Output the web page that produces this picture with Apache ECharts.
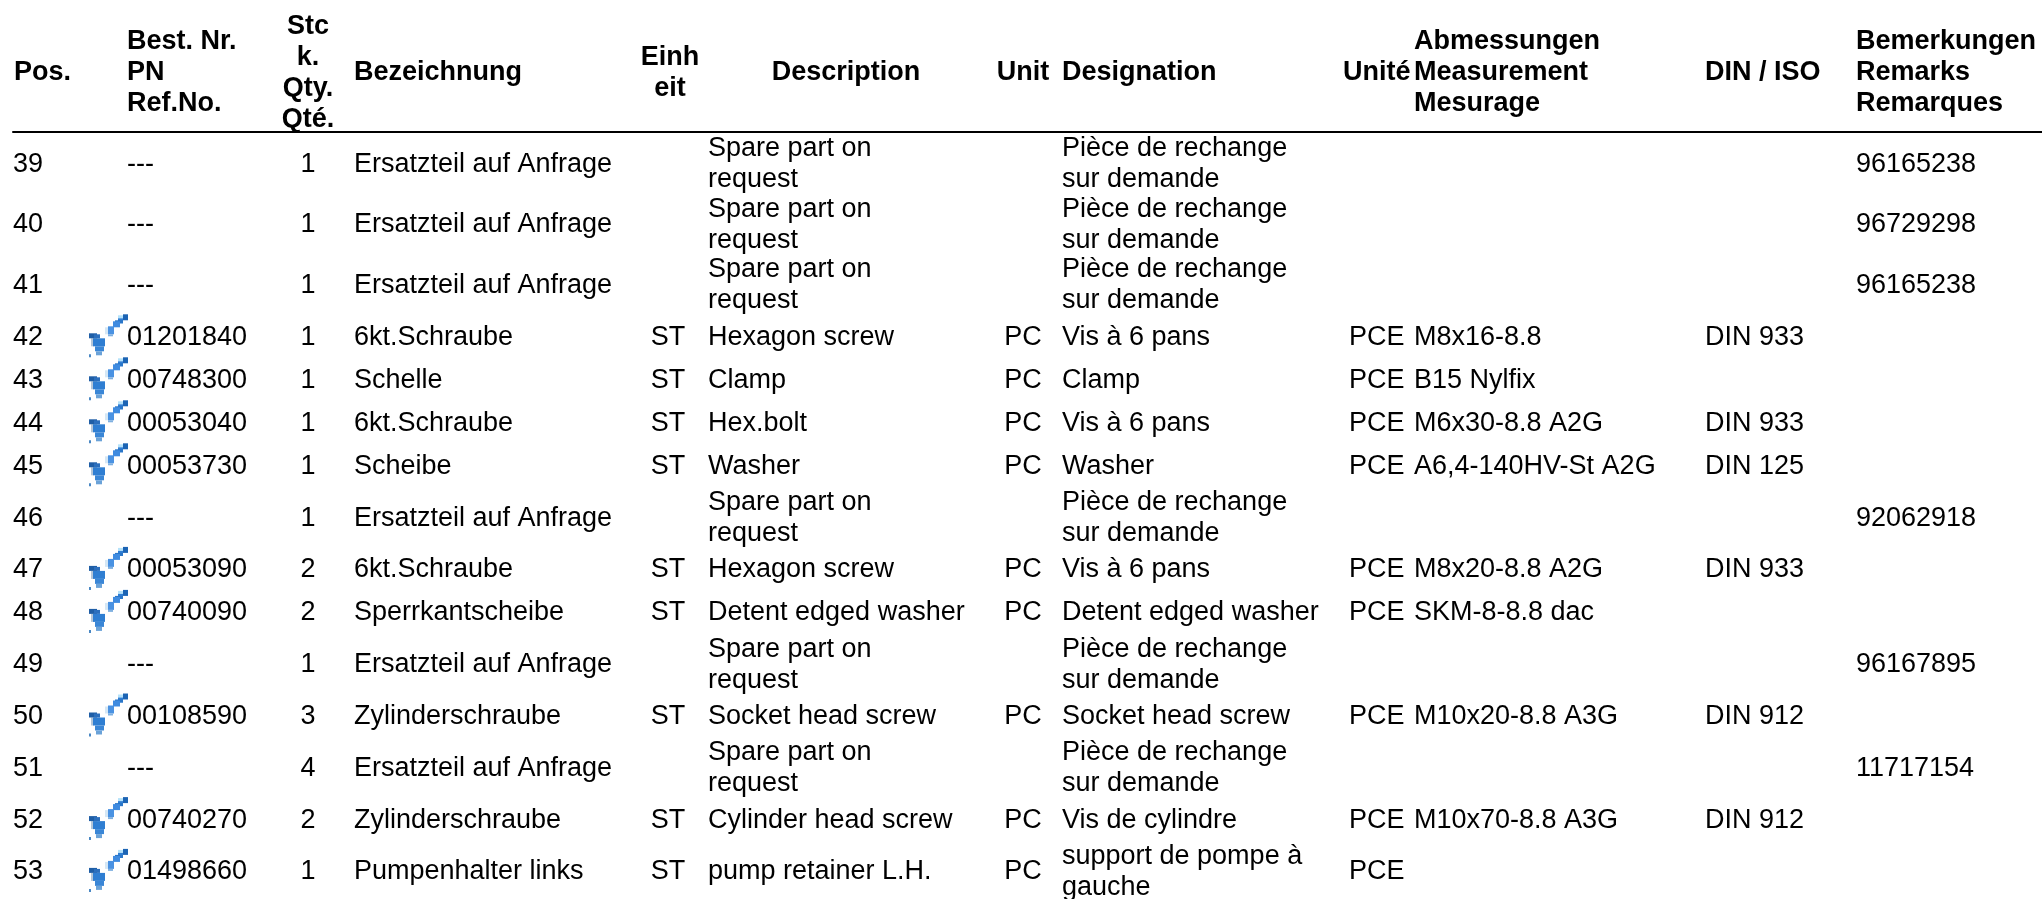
<!DOCTYPE html>
<html>
<head>
<meta charset="utf-8">
<title>Ersatzteilliste</title>
<style>
  html, body { margin: 0; padding: 0; background: #fff; }
  #chart { width: 2042px; height: 899px; }
</style>
<script src="https://cdn.jsdelivr.net/npm/echarts@6/dist/echarts.min.js"></script>
</head>
<body>
<div id="chart"></div>
<script>
const SPARE_DE = 'Ersatzteil auf Anfrage';
const SPARE_EN = 'Spare part on\nrequest';
const SPARE_FR = 'Pièce de rechange\nsur demande';

const positions = ['39', '40', '41', '42', '43', '44', '45', '46', '47', '48', '49', '50', '51', '52', '53'];
const partNumbers = ['---', '---', '---', '01201840', '00748300', '00053040', '00053730', '---', '00053090', '00740090', '---', '00108590', '---', '00740270', '01498660'];
const quantities = ['1', '1', '1', '1', '1', '1', '1', '1', '2', '2', '1', '3', '4', '2', '1'];
const namesDe = [SPARE_DE, SPARE_DE, SPARE_DE, '6kt.Schraube', 'Schelle', '6kt.Schraube', 'Scheibe', SPARE_DE, '6kt.Schraube', 'Sperrkantscheibe', SPARE_DE, 'Zylinderschraube', SPARE_DE, 'Zylinderschraube', 'Pumpenhalter links'];
const unitsDe = ['', '', '', 'ST', 'ST', 'ST', 'ST', '', 'ST', 'ST', '', 'ST', '', 'ST', 'ST'];
const namesEn = [SPARE_EN, SPARE_EN, SPARE_EN, 'Hexagon screw', 'Clamp', 'Hex.bolt', 'Washer', SPARE_EN, 'Hexagon screw', 'Detent edged washer', SPARE_EN, 'Socket head screw', SPARE_EN, 'Cylinder head screw', 'pump retainer L.H.'];
const unitsEn = ['', '', '', 'PC', 'PC', 'PC', 'PC', '', 'PC', 'PC', '', 'PC', '', 'PC', 'PC'];
const namesFr = [SPARE_FR, SPARE_FR, SPARE_FR, 'Vis à 6 pans', 'Clamp', 'Vis à 6 pans', 'Washer', SPARE_FR, 'Vis à 6 pans', 'Detent edged washer', SPARE_FR, 'Socket head screw', SPARE_FR, 'Vis de cylindre', 'support de pompe à\ngauche'];
const unitsFr = ['', '', '', 'PCE', 'PCE', 'PCE', 'PCE', '', 'PCE', 'PCE', '', 'PCE', '', 'PCE', 'PCE'];
const measures = ['', '', '', 'M8x16-8.8', 'B15 Nylfix', 'M6x30-8.8 A2G', 'A6,4-140HV-St A2G', '', 'M8x20-8.8 A2G', 'SKM-8-8.8 dac', '', 'M10x20-8.8 A3G', '', 'M10x70-8.8 A3G', ''];
const standards = ['', '', '', 'DIN 933', '', 'DIN 933', 'DIN 125', '', 'DIN 933', '', '', 'DIN 912', '', 'DIN 912', ''];
const remarks = ['96165238', '96729298', '96165238', '', '', '', '', '92062918', '', '', '96167895', '', '11717154', '', ''];

// column: header text, header anchor, body values, body anchor
const columns = [
  { head: 'Pos.', headX: 14, values: positions, x: 13 },
  { head: 'Best. Nr.\nPN\nRef.No.', headX: 127, values: partNumbers, x: 127 },
  { head: 'Stc\nk.\nQty.\nQté.', headX: 308, headAlign: 'center', values: quantities, x: 308, align: 'center' },
  { head: 'Bezeichnung', headX: 354, values: namesDe, x: 354 },
  { head: 'Einh\neit', headX: 670, headAlign: 'center', values: unitsDe, x: 668, align: 'center' },
  { head: 'Description', headX: 846, headAlign: 'center', values: namesEn, x: 708 },
  { head: 'Unit', headX: 1023, headAlign: 'center', values: unitsEn, x: 1023, align: 'center' },
  { head: 'Designation', headX: 1062, values: namesFr, x: 1062 },
  { head: 'Unité', headX: 1343, values: unitsFr, x: 1349 },
  { head: 'Abmessungen\nMeasurement\nMesurage', headX: 1414, values: measures, x: 1414 },
  { head: 'DIN / ISO', headX: 1705, values: standards, x: 1705 },
  { head: 'Bemerkungen\nRemarks\nRemarques', headX: 1856, values: remarks, x: 1856 }
];

const ruleY = 132;
const headerMidY = 73;
const tallRow = 60.6;
const shortRow = 43;
const lineH = 31;

// two-line rows are taller than single-line rows
const rowCentres = [];
let rowTop = ruleY + 2;
positions.forEach((_, i) => {
  const h = namesEn[i].includes('\n') || namesFr[i].includes('\n') ? tallRow : shortRow;
  rowCentres.push(rowTop + h / 2);
  rowTop += h;
});

const iconX = 108;
// blocky tool glyph: x, y, w, h, colour, relative to the top left of the icon box
const iconCells = [
  [33, 5, 5, 3, '#b5e2fa'], [38, 4, 5, 6, '#1c64b4'], [33, 8, 5, 5, '#2f7fd6'],
  [30, 10, 8, 3, '#2a76c8'], [28, 11, 7, 6, '#3f8be0'], [20, 17, 4, 7, '#d5e7f5'],
  [23, 16, 6, 8, '#4a92e2'], [23, 24, 5, 2, '#7fb0e0'],
  [6, 28, 3, 8, '#b4c6d8'], [8, 28, 12, 8, '#2f7ed2'], [10, 36, 9, 5, '#3a86d6'],
  [11, 41, 6, 4, '#6aa2d8'], [4, 23, 8, 5, '#1f5ea6'], [9, 24, 6, 4, '#2c6fbd'],
  [4, 44, 2, 3, '#4a88c4']
];

function textSeries(gridIndex, data, align, fontWeight) {
  return {
    type: 'scatter',
    xAxisIndex: gridIndex,
    yAxisIndex: gridIndex,
    clip: false,
    silent: true,
    symbolSize: 1,
    itemStyle: { color: 'transparent', opacity: 1 },
    label: {
      show: true,
      position: 'inside',
      align,
      verticalAlign: 'middle',
      formatter: p => p.value[2],
      color: '#000',
      opacity: 1, // scatter labels pick up the 0.8 default symbol opacity otherwise
      fontFamily: '"Liberation Sans", Arial, sans-serif',
      fontSize: 27,
      fontWeight,
      lineHeight: lineH
    },
    data
  };
}

const series = [];
columns.forEach(col => {
  series.push(textSeries(0, [[col.headX, headerMidY, col.head]], col.headAlign || 'left', 'bold'));
  const cells = [];
  col.values.forEach((v, i) => { if (v) cells.push([col.x, rowCentres[i], v]); });
  series.push(textSeries(1, cells, col.align || 'left', 'normal'));
});

// small blue tool icon in front of orderable part numbers
series.push({
  type: 'custom',
  xAxisIndex: 1,
  yAxisIndex: 1,
  clip: false,
  silent: true,
  renderItem: (params, api) => {
    const [cx, cy] = api.coord([api.value(0), api.value(1)]);
    return {
      type: 'group',
      x: cx - 23,
      y: cy - 27,
      children: iconCells.map(([x, y, width, height, fill]) => ({
        type: 'rect',
        shape: { x, y, width, height },
        style: { fill }
      }))
    };
  },
  data: partNumbers.map((p, i) => (p === '---' ? null : [iconX, rowCentres[i]])).filter(Boolean)
});

const chart = echarts.init(document.getElementById('chart'), null, { renderer: 'canvas' });
chart.setOption({
  animation: false,
  backgroundColor: '#fff',
  grid: [
    { left: 0, right: 0, top: 0, height: ruleY },
    { left: 13, right: 0, top: ruleY, bottom: 0 }
  ],
  xAxis: [
    { type: 'value', gridIndex: 0, min: 0, max: 2042, show: false },
    {
      type: 'value',
      gridIndex: 1,
      min: 13,
      max: 2042,
      position: 'top',
      axisLine: { show: true, onZero: false, lineStyle: { color: '#000', width: 2 } },
      axisTick: { show: false },
      axisLabel: { show: false },
      splitLine: { show: false }
    }
  ],
  yAxis: [
    { type: 'value', gridIndex: 0, inverse: true, min: 0, max: ruleY, show: false },
    { type: 'value', gridIndex: 1, inverse: true, min: ruleY, max: 899, show: false }
  ],
  series
});
</script>
</body>
</html>
